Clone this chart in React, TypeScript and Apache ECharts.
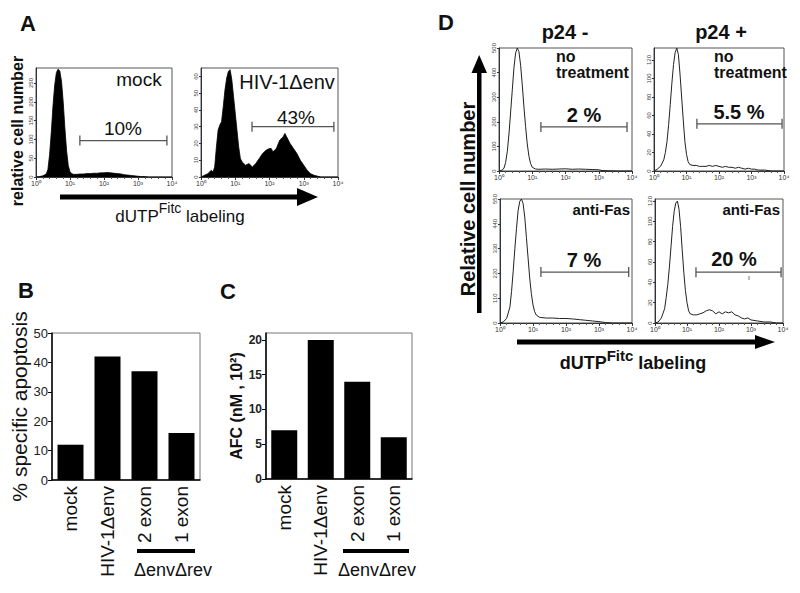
import React, { useEffect, useRef } from 'react';
import * as echarts from 'echarts';

const FONT = '"Liberation Sans", Arial, Helvetica, sans-serif';

// ---------- data ----------
// Flow-cytometry histograms: x = log10 fluorescence (decades), y = relative cell number
const decadeLabels = ['10⁰', '10¹', '10²', '10³', '10⁴'];

const mockDecade = [0, 0.1, 0.2, 0.3, 0.35, 0.4, 0.45, 0.5, 0.55, 0.6, 0.65, 0.7, 0.75, 0.8, 0.85, 0.9, 0.95, 1.0, 1.05, 1.1, 1.2, 1.3, 1.4, 1.5, 1.6, 1.7, 1.8, 1.9, 2.0, 2.1, 2.2, 2.3, 2.4, 2.5, 2.6, 2.7, 2.8, 2.9, 3.0, 3.1, 3.2, 3.3, 3.5, 4.0];
const mockCount = [0, 1, 3, 8, 20, 60, 120, 190, 245, 278, 287, 282, 255, 200, 130, 70, 30, 14, 9, 7, 7, 8, 8, 9, 9, 10, 10, 11, 11, 12, 11, 10, 9, 8, 6, 5, 4, 3, 2, 1, 1, 0, 0, 0];

const hivDecade = [0, 0.1, 0.2, 0.3, 0.35, 0.4, 0.45, 0.5, 0.55, 0.6, 0.65, 0.7, 0.75, 0.8, 0.85, 0.9, 0.95, 1.0, 1.05, 1.1, 1.15, 1.2, 1.3, 1.4, 1.5, 1.6, 1.7, 1.8, 1.9, 2.0, 2.05, 2.1, 2.2, 2.3, 2.4, 2.45, 2.5, 2.6, 2.7, 2.8, 2.9, 3.0, 3.1, 3.2, 3.3, 3.5, 4.0];
const hivCount = [0, 1, 2, 4, 3, 6, 18, 28, 31, 33, 42, 52, 59, 63, 64, 58, 48, 38, 28, 18, 11, 9, 7, 8, 6, 8, 11, 14, 16, 17, 17, 15, 17, 22, 24, 26, 24, 20, 17, 14, 10, 7, 4, 2, 1, 0, 0];

const p24negNoTxDecade = [0, 0.1, 0.15, 0.2, 0.25, 0.3, 0.35, 0.4, 0.45, 0.5, 0.55, 0.6, 0.65, 0.7, 0.75, 0.8, 0.85, 0.9, 0.95, 1.0, 1.1, 1.2, 1.4, 1.6, 1.8, 2.0, 2.2, 2.4, 2.6, 2.8, 3.0, 3.1, 3.3, 3.6, 4.0];
const p24negNoTxCount = [0, 4, 12, 35, 80, 150, 240, 330, 420, 480, 500, 485, 430, 350, 260, 180, 110, 60, 30, 15, 8, 7, 8, 7, 8, 9, 7, 8, 7, 6, 5, 2, 1, 0, 0];

const p24posNoTxDecade = [0, 0.1, 0.2, 0.3, 0.35, 0.4, 0.45, 0.5, 0.55, 0.6, 0.65, 0.7, 0.75, 0.8, 0.85, 0.9, 0.95, 1.0, 1.05, 1.1, 1.2, 1.3, 1.4, 1.5, 1.6, 1.7, 1.8, 1.9, 2.0, 2.1, 2.2, 2.3, 2.4, 2.5, 2.6, 2.7, 2.8, 2.9, 3.0, 3.1, 3.2, 3.4, 3.6, 4.0];
const p24posNoTxCount = [0, 2, 5, 12, 20, 32, 50, 72, 95, 115, 128, 133, 126, 105, 80, 55, 32, 18, 10, 7, 6, 6, 5, 5, 5, 6, 5, 6, 5, 4, 5, 4, 4, 3, 4, 3, 2, 3, 2, 2, 1, 1, 0, 0];

const p24negFasDecade = [0, 0.1, 0.2, 0.3, 0.35, 0.4, 0.45, 0.5, 0.55, 0.6, 0.65, 0.7, 0.75, 0.8, 0.85, 0.9, 0.95, 1.0, 1.05, 1.1, 1.2, 1.4, 1.6, 1.8, 2.0, 2.2, 2.4, 2.6, 2.8, 3.0, 3.2, 3.4, 4.0];
const p24negFasCount = [0, 5, 20, 70, 140, 230, 330, 420, 500, 540, 550, 530, 470, 380, 290, 200, 130, 80, 50, 35, 25, 22, 22, 20, 20, 18, 15, 12, 9, 6, 2, 0, 0];

const p24posFasDecade = [0, 0.1, 0.2, 0.3, 0.35, 0.4, 0.45, 0.5, 0.55, 0.6, 0.65, 0.7, 0.75, 0.8, 0.85, 0.9, 0.95, 1.0, 1.05, 1.1, 1.2, 1.3, 1.4, 1.5, 1.6, 1.7, 1.8, 1.9, 2.0, 2.1, 2.2, 2.3, 2.4, 2.5, 2.6, 2.7, 2.8, 2.9, 3.0, 3.2, 3.4, 3.6, 3.8, 4.0];
const p24posFasCount = [0, 1, 5, 14, 25, 38, 55, 75, 95, 110, 118, 120, 112, 95, 72, 50, 32, 20, 12, 9, 8, 8, 9, 10, 12, 13, 12, 9, 11, 9, 11, 10, 11, 8, 7, 5, 4, 5, 3, 2, 1, 1, 0, 0];

// marker gates (decades) and their level (cell number)
const gateStart = [1.29, 1.49, 1.26, 1.32, 1.24, 1.28];
const gateEnd = [3.85, 3.88, 3.85, 3.94, 3.9, 3.94];
const gateLevel = [97, 30, 179, 51, 226, 50];

// y-axis ranges of the histograms
const histYMax = [290, 65, 500, 133, 550, 122];
const histYStep = [50, 10, 100, 20, 110, 20];

// bar charts
const barCategories = ['mock', 'HIV-1Δenv', '2 exon', '1 exon'];
const apoptosisPct = [12, 42, 37, 16];
const afcValues = [7, 20, 14, 6];

// ---------- layout ----------
const histBoxes = [
  [36, 68, 136, 109],
  [201, 68, 137, 109],
  [499, 48, 133, 123],
  [654, 48, 130, 123],
  [500, 199, 132, 124],
  [655, 199, 128, 124],
];
const histSeries = [
  { xs: mockDecade, ys: mockCount, filled: true },
  { xs: hivDecade, ys: hivCount, filled: true },
  { xs: p24negNoTxDecade, ys: p24negNoTxCount, filled: false },
  { xs: p24posNoTxDecade, ys: p24posNoTxCount, filled: false },
  { xs: p24negFasDecade, ys: p24negFasCount, filled: false },
  { xs: p24posFasDecade, ys: p24posFasCount, filled: false },
];

function txt(text: string, x: number, y: number, size: number, opts: any = {}) {
  return {
    type: 'text',
    x,
    y,
    rotation: opts.rotation || 0,
    silent: true,
    style: {
      text,
      fontSize: size,
      fontWeight: opts.bold ? 'bold' : 'normal',
      fontFamily: FONT,
      fill: opts.color || '#111',
      align: opts.align || 'center',
      verticalAlign: opts.vAlign || 'middle',
    },
  };
}

function dutpLabel(x: number, y: number, big: number, small: number, bold: boolean) {
  const w = bold ? 'bold' : 'normal';
  return {
    type: 'text',
    x,
    y,
    silent: true,
    style: {
      text: '{m|dUTP}{s|Fitc}{m| labeling}',
      align: 'center',
      verticalAlign: 'middle',
      fill: '#111',
      rich: {
        m: { fontSize: big, fontWeight: w, fontFamily: FONT, lineHeight: 30, verticalAlign: 'middle', fill: '#111' },
        s: { fontSize: small, fontWeight: w, fontFamily: FONT, lineHeight: 14, verticalAlign: 'top', fill: '#111' },
      },
    },
  };
}

function buildOption() {
  const grid: any[] = [];
  const xAxis: any[] = [];
  const yAxis: any[] = [];
  const series: any[] = [];

  histBoxes.forEach((b, i) => {
    const [left, top, width, height] = b;
    const yMax = histYMax[i];
    const yStep = histYStep[i];
    grid.push({ left, top, width, height, show: true, borderColor: '#555', borderWidth: 1 });
    xAxis.push({
      gridIndex: i,
      type: 'value',
      min: 0,
      max: 4,
      interval: 1,
      axisLine: { lineStyle: { color: '#333', width: 1 } },
      axisTick: { length: 3, lineStyle: { color: '#333' } },
      minorTick: { show: true, splitNumber: 5, length: 2, lineStyle: { color: '#555' } },
      splitLine: { show: false },
      axisLabel: {
        formatter: (v: number) => decadeLabels[Math.round(v)],
        fontSize: 7,
        margin: 3,
        color: '#333',
        fontFamily: FONT,
      },
    });
    yAxis.push({
      gridIndex: i,
      type: 'value',
      min: 0,
      max: yMax,
      interval: yStep,
      axisLine: { show: true, lineStyle: { color: '#333', width: 1 } },
      axisTick: { show: true, length: 2, lineStyle: { color: '#333' } },
      splitLine: { show: false },
      axisLabel: {
        rotate: 90,
        fontSize: 6,
        margin: 2,
        color: '#444',
        fontFamily: FONT,
        showMaxLabel: yMax % yStep === 0,
      },
    });
    const h = histSeries[i];
    series.push({
      type: 'line',
      xAxisIndex: i,
      yAxisIndex: i,
      data: h.xs.map((x, j) => [x, h.ys[j]]),
      symbol: 'none',
      silent: true,
      lineStyle: { color: h.filled ? '#000' : '#222', width: h.filled ? 0.8 : 1 },
      areaStyle: h.filled ? { color: '#000', opacity: 1 } : undefined,
    });
    const cap = (yMax / height) * 5;
    const s = gateStart[i];
    const e = gateEnd[i];
    const L = gateLevel[i];
    series.push({
      type: 'line',
      xAxisIndex: i,
      yAxisIndex: i,
      data: [[s, L + cap], [s, L - cap], [s, L], [e, L], [e, L + cap], [e, L - cap]],
      symbol: 'none',
      silent: true,
      z: 5,
      lineStyle: { color: '#555', width: 1.3 },
    });
  });

  // bar charts
  const barBoxes = [
    [52, 333, 148, 147],
    [266, 333, 146, 146],
  ];
  const barData = [apoptosisPct, afcValues];
  const barY = [
    { max: 50, step: 10, name: '% specific apoptosis', nameSize: 21, nameBold: false, labelSize: 13, labelBold: false, showMax: true },
    { max: 21, step: 5, name: 'AFC (nM , 10²)', nameSize: 16, nameBold: true, labelSize: 12, labelBold: true, showMax: false },
  ];
  barBoxes.forEach((b, k) => {
    const gi = histBoxes.length + k;
    const [left, top, width, height] = b;
    const cfg = barY[k];
    grid.push({ left, top, width, height, show: true, borderColor: '#777', borderWidth: 1 });
    xAxis.push({
      gridIndex: gi,
      type: 'category',
      data: barCategories,
      axisTick: { show: false },
      axisLine: { lineStyle: { color: '#000', width: 1.5 } },
      axisLabel: { rotate: 90, interval: 0, fontSize: 19, margin: 6, color: '#111', fontFamily: FONT },
    });
    yAxis.push({
      gridIndex: gi,
      type: 'value',
      min: 0,
      max: cfg.max,
      interval: cfg.step,
      splitLine: { show: false },
      axisLine: { show: true, lineStyle: { color: '#000', width: 1.5 } },
      axisTick: { show: true, length: 4, lineStyle: { color: '#000' } },
      axisLabel: {
        fontSize: cfg.labelSize,
        fontWeight: cfg.labelBold ? 'bold' : 'normal',
        margin: 4,
        color: '#222',
        fontFamily: FONT,
        showMaxLabel: cfg.showMax,
      },
      name: cfg.name,
      nameLocation: 'middle',
      nameGap: 22,
      nameTextStyle: { fontSize: cfg.nameSize, fontWeight: cfg.nameBold ? 'bold' : 'normal', color: '#111', fontFamily: FONT },
    });
    series.push({
      type: 'bar',
      xAxisIndex: gi,
      yAxisIndex: gi,
      data: barData[k],
      barWidth: 26,
      silent: true,
      itemStyle: { color: '#000' },
    });
  });

  const graphic: any[] = [
    // panel letters
    txt('A', 28, 23, 22, { bold: true }),
    txt('B', 26, 290, 22, { bold: true }),
    txt('C', 228, 291, 22, { bold: true }),
    txt('D', 446, 22, 22, { bold: true }),
    // panel A
    txt('mock', 139, 79, 19),
    txt('10%', 123, 128, 19),
    txt('HIV-1Δenv', 287, 82, 20),
    txt('43%', 296, 117, 19),
    txt('relative cell number', 17, 131, 16, { bold: true, rotation: Math.PI / 2 }),
    { type: 'rect', silent: true, shape: { x: 60, y: 194.5, width: 240, height: 5 }, style: { fill: '#000' } },
    { type: 'polygon', silent: true, shape: { points: [[297, 188], [318, 197], [297, 206]] }, style: { fill: '#000' } },
    dutpLabel(180, 216, 17, 14, false),
    // panel B / C annotations
    { type: 'rect', silent: true, shape: { x: 137, y: 549, width: 58, height: 4 }, style: { fill: '#000' } },
    txt('ΔenvΔrev', 173, 570, 18),
    { type: 'rect', silent: true, shape: { x: 343, y: 549, width: 66, height: 4 }, style: { fill: '#000' } },
    txt('ΔenvΔrev', 377, 570, 18),
    // panel D
    txt('p24 -', 565, 32, 20, { bold: true }),
    txt('p24 +', 721, 32, 20, { bold: true }),
    txt('no', 556, 56.5, 16, { bold: true, align: 'left' }),
    txt('treatment', 556, 72.5, 16, { bold: true, align: 'left' }),
    txt('no', 714, 56.5, 16, { bold: true, align: 'left' }),
    txt('treatment', 714, 72.5, 16, { bold: true, align: 'left' }),
    txt('2 %', 584, 115, 20, { bold: true }),
    txt('5.5 %', 739, 112, 20, { bold: true }),
    txt('anti-Fas', 630, 209, 15, { bold: true, align: 'right' }),
    txt('anti-Fas', 780, 209, 15, { bold: true, align: 'right' }),
    txt('7 %', 584, 260, 20, { bold: true }),
    txt('20 %', 734, 259, 20, { bold: true }),
    { type: 'line', silent: true, shape: { x1: 749, y1: 276, x2: 749, y2: 280 }, style: { stroke: '#777', lineWidth: 1 } },
    txt('Relative cell number', 468, 199, 20, { bold: true, rotation: Math.PI / 2 }),
    { type: 'rect', silent: true, shape: { x: 477, y: 70, width: 4.5, height: 243 }, style: { fill: '#000' } },
    { type: 'polygon', silent: true, shape: { points: [[471.5, 73], [479.2, 55], [487, 73]] }, style: { fill: '#000' } },
    { type: 'rect', silent: true, shape: { x: 517, y: 339.5, width: 240, height: 5 }, style: { fill: '#000' } },
    { type: 'polygon', silent: true, shape: { points: [[755, 335], [775, 342], [755, 349]] }, style: { fill: '#000' } },
    dutpLabel(633, 363, 18, 15, true),
  ];

  return {
    animation: false,
    backgroundColor: '#fff',
    textStyle: { fontFamily: FONT },
    grid,
    xAxis,
    yAxis,
    series,
    graphic,
  };
}

export default function App() {
  const ref = useRef<HTMLDivElement>(null);
  useEffect(() => {
    const chart = echarts.init(ref.current as HTMLDivElement, null, { renderer: 'svg' });
    chart.setOption(buildOption() as any);
    return () => chart.dispose();
  }, []);
  return (
    <div
      ref={ref}
      style={{ position: 'absolute', left: 0, top: 0, width: 800, height: 593, background: '#fff' }}
    />
  );
}
